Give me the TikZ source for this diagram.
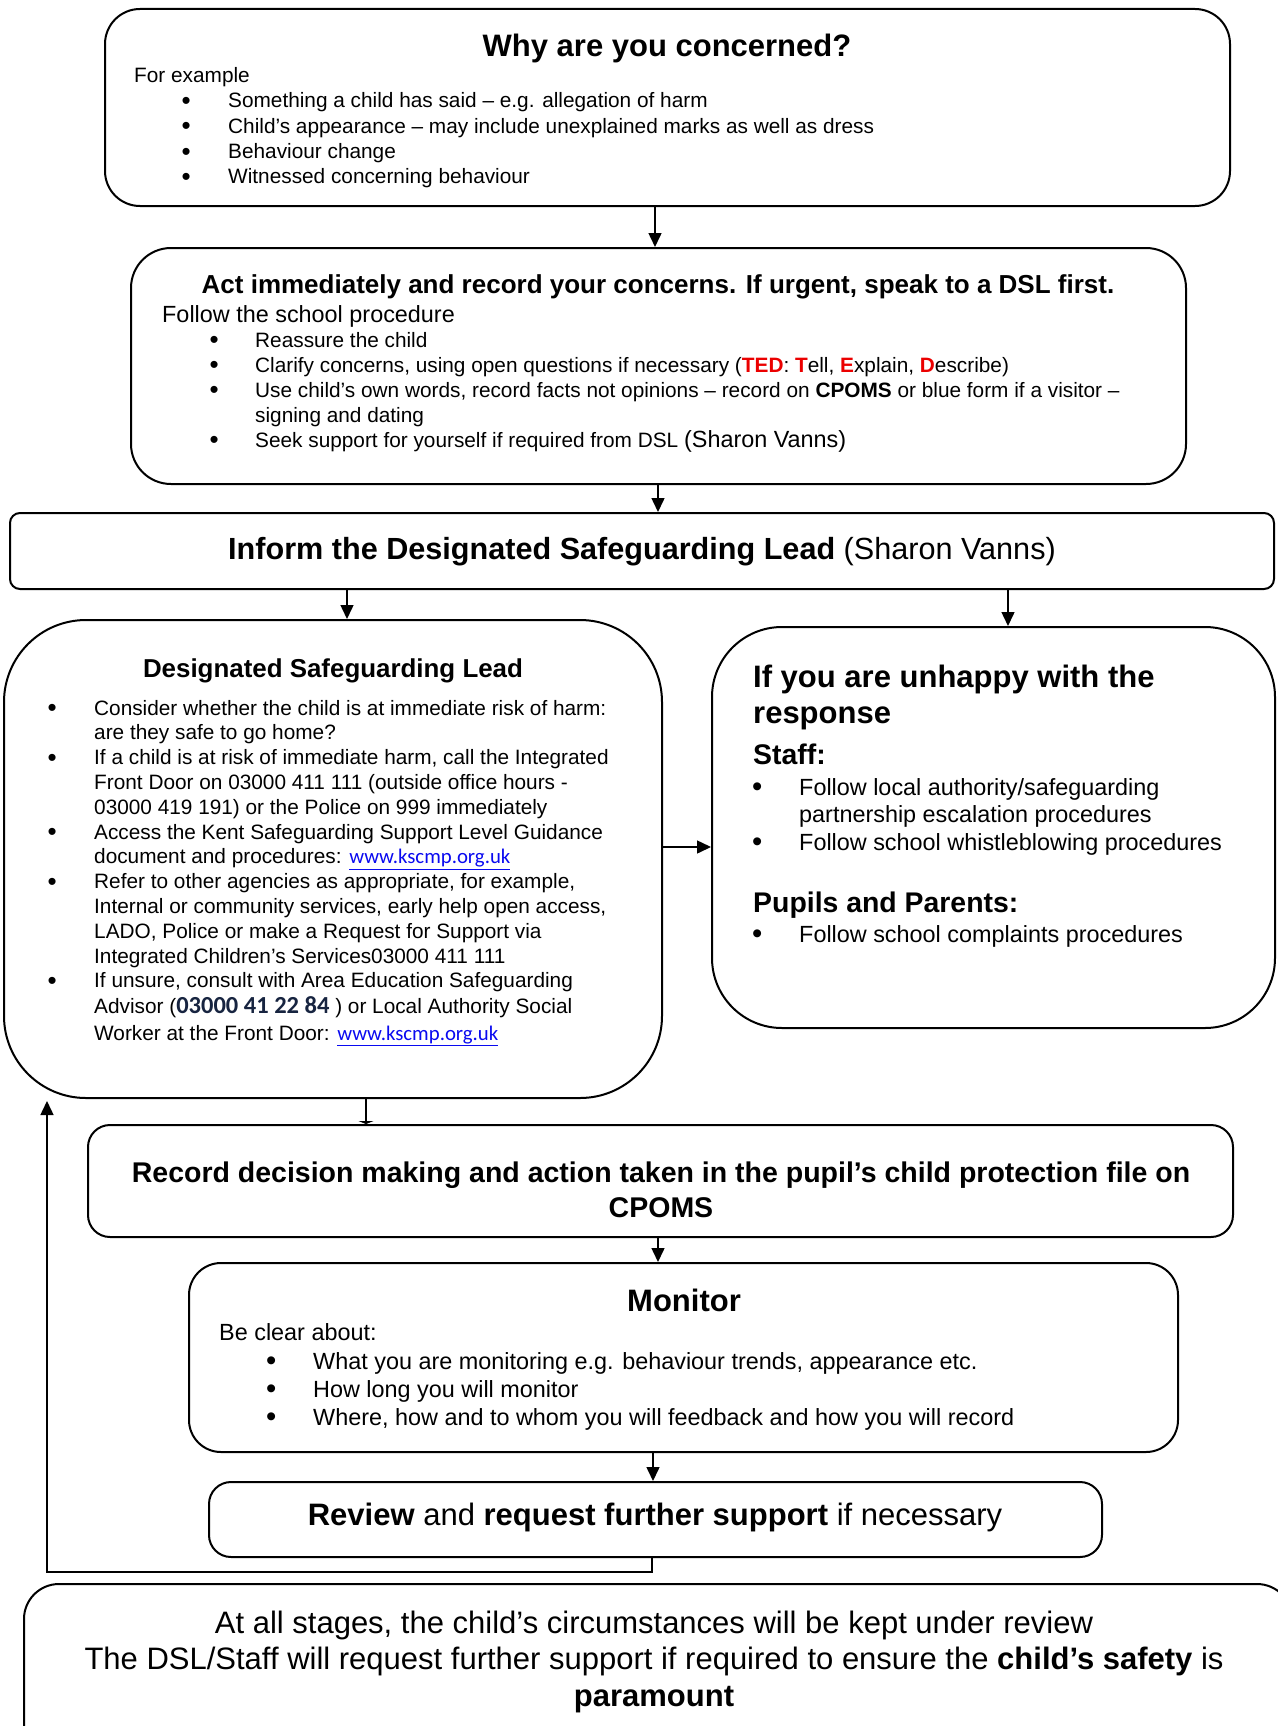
\documentclass[tikz,border=0pt]{standalone}
\usepackage{fontspec}
\usepackage{graphicx}
\setmainfont{Liberation Sans}
\newfontfamily\calfont{Carlito}
\usetikzlibrary{arrows.meta}
\definecolor{linkblue}{RGB}{10,10,240}
\definecolor{navy}{RGB}{23,36,64}
\definecolor{tedred}{RGB}{235,0,0}
\newcommand\fsz[2]{\fontsize{#1}{#2}\selectfont\spaceskip=0pt\xspaceskip=0pt\relax}
\newcommand\bigbul{\raisebox{-0.08em}{\scalebox{1.25}{\textbullet}}}
\newcommand\bitem[2]{\noindent\llap{\makebox[#1][l]{\makebox[0pt]{\bigbul}}}#2\par}
\newcommand\lnk[1]{{\calfont\color{linkblue}\underline{#1}}}
\newcommand\red[1]{{\color{tedred}\bfseries #1}}
\begin{document}
\begin{tikzpicture}[x=1pt,y=-1pt,
  box/.style={draw, line width=2pt, rounded corners=#1, inner sep=0pt},
  arr/.style={-{Triangle[length=14pt,width=13pt]}, line width=1.5pt},
  flatarr/.style={-{Triangle[length=3pt,width=15pt]}, line width=1.5pt},
  txt/.style={inner sep=0pt, anchor=base west}]
\useasboundingbox (0,0) rectangle (1277,1726);
\fill[white] (0,0) rectangle (1277,1726);
% boxes
\node[box=35pt, minimum width=1125pt, minimum height=197pt] (b1) at (667.5,107.5) {};
\node[box=40pt, minimum width=1055pt, minimum height=236pt] (b2) at (658.5,366) {};
\node[box=10pt, minimum width=1264pt, minimum height=76pt] (b3) at (642,551) {};
\node[box=82pt, minimum width=658pt, minimum height=478pt] (b4) at (333,859) {};
\node[box=70pt, minimum width=563pt, minimum height=401pt] (b5) at (993.5,827.5) {};
\node[box=22pt, minimum width=1145pt, minimum height=112pt] (b6) at (660.5,1181) {};
\node[box=32pt, minimum width=989pt, minimum height=189pt] (b7) at (683.5,1357.5) {};
\node[box=22pt, minimum width=893pt, minimum height=75pt] (b8) at (655.5,1519.5) {};
\node[box=35pt, minimum width=1268pt, minimum height=176pt] (b9) at (658,1672) {};
% box 1 text
\node[txt, anchor=base] (t1) at (667,57) {\fsz{31}{36}\bfseries Why are you concerned?};
\node[txt] (t1a) at (134,83) {\fsz{20.8}{25.3}For example};
\node[txt, text width=950pt] (t1b) at (228,108) {\fsz{20.8}{25.3}\raggedright
\bitem{42pt}{Something a child has said – e.g. allegation of harm}%
\bitem{42pt}{Child’s appearance – may include unexplained marks as well as dress}%
\bitem{42pt}{Behaviour change}%
\bitem{42pt}{Witnessed concerning behaviour}};
% box 2 text
\node[txt, anchor=base] (t2) at (658,293) {\fsz{26}{30}\bfseries Act immediately and record your concerns. If urgent, speak to a DSL first.};
\node[txt] (t2a) at (162,322) {\fsz{23.4}{27}Follow the school procedure};
\node[txt, text width=920pt] (t2b) at (255,347) {\fsz{20.8}{25}\raggedright
\bitem{41pt}{Reassure the child}%
\bitem{41pt}{Clarify concerns, using open questions if necessary (\red{TED}: \red{T}ell, \red{E}xplain, \red{D}escribe)}%
\bitem{41pt}{Use child’s own words, record facts not opinions – record on \textbf{CPOMS} or blue form if a visitor –\\ signing and dating}%
\bitem{41pt}{Seek support for yourself if required from DSL {\fsz{23.4}{25}(Sharon Vanns)}}};
% box 3 text
\node[txt, anchor=base] (t3) at (642,559) {\fsz{30.6}{35}\textbf{Inform the Designated Safeguarding Lead} (Sharon Vanns)};
% box 4 text
\node[txt, anchor=base] (t4) at (333,677) {\fsz{25.9}{30}\bfseries Designated Safeguarding Lead};
\node[txt, text width=600pt] (t4b) at (94,715) {\fsz{20.8}{24.8}\raggedright
\bitem{42pt}{Consider whether the child is at immediate risk of harm:\\ are they safe to go home?}%
\bitem{42pt}{If a child is at risk of immediate harm, call the Integrated\\ Front Door on 03000 411 111 (outside office hours -\\ 03000 419 191) or the Police on 999 immediately}%
\bitem{42pt}{Access the Kent Safeguarding Support Level Guidance\\ document and procedures: \lnk{www.kscmp.org.uk}}%
\bitem{42pt}{Refer to other agencies as appropriate, for example,\\ Internal or community services, early help open access,\\ LADO, Police or make a Request for Support via\\ Integrated Children’s Services03000 411 111}%
\bitem{42pt}{If unsure, consult with Area Education Safeguarding\\[1pt] Advisor ({\calfont\bfseries\color{navy}\fsz{24.5}{25}03000 41 22 84} ) or Local Authority Social\\[2pt] Worker at the Front Door: \lnk{www.kscmp.org.uk}}};
% box 5 text
\node[txt, text width=520pt] (t5) at (753,687) {\fsz{31}{36}\bfseries\raggedright If you are unhappy with the\\ response\par};
\node[txt] (t5a) at (753,764) {\fsz{28.4}{32}\bfseries Staff:};
\node[txt, text width=470pt] (t5b) at (799,795) {\fsz{23.4}{27.5}\raggedright
\bitem{42pt}{Follow local authority/safeguarding\\ partnership escalation procedures}%
\bitem{42pt}{Follow school whistleblowing procedures}};
\node[txt] (t5c) at (753,912) {\fsz{28.4}{32}\bfseries Pupils and Parents:};
\node[txt, text width=470pt] (t5d) at (799,942) {\fsz{23.4}{27.5}\raggedright
\bitem{42pt}{Follow school complaints procedures}};
% box 6 text
\node[txt, anchor=base, text width=1140pt] (t6) at (661,1182) {\fsz{28.5}{35}\bfseries\centering Record decision making and action taken in the pupil’s child protection file on\\ CPOMS\par};
% box 7 text
\node[txt, anchor=base] (t7) at (684,1311) {\fsz{31}{36}\bfseries Monitor};
\node[txt] (t7a) at (219,1340) {\fsz{23.4}{28}Be clear about:};
\node[txt, text width=860pt] (t7b) at (313,1369) {\fsz{23.4}{28}\raggedright
\bitem{42pt}{What you are monitoring e.g. behaviour trends, appearance etc.}%
\bitem{42pt}{How long you will monitor}%
\bitem{42pt}{Where, how and to whom you will feedback and how you will record}};
% box 8 text
\node[txt, anchor=base] (t8) at (655,1525) {\fsz{31}{36}\textbf{Review} and \textbf{request further support} if necessary};
% box 9 text
\node[txt, anchor=base, text width=1260pt] (t9) at (654,1633) {\fsz{31}{36.5}\centering At all stages, the child’s circumstances will be kept under review\\ The DSL/Staff will request further support if required to ensure the \textbf{child’s safety} is\\ \textbf{paramount}\par};
% connector x positions
\coordinate (x655) at (655,0);
\coordinate (x658) at (658,0);
\coordinate (x347) at (347,0);
\coordinate (x1008) at (1008,0);
\coordinate (y847) at (0,847);
\coordinate (x366) at (366,0);
\coordinate (x653) at (653,0);
\coordinate (fb1) at (652,1572);
\coordinate (fb2) at (47,1572);
\coordinate (fbend) at (47,1101);
% connectors
\draw[arr] (b1.south -| x655) -- (b2.north -| x655);
\draw[arr] (b2.south -| x658) -- (b3.north -| x658);
\draw[arr] (b3.south -| x347) -- (b4.north -| x347);
\draw[arr] (b3.south -| x1008) -- (b5.north -| x1008);
\draw[arr] (b4.east |- y847) -- (b5.west |- y847);
\draw[flatarr] (b4.south -| x366) -- (b6.north -| x366);
\draw[arr] (b6.south -| x658) -- (b7.north -| x658);
\draw[arr] (b7.south -| x653) -- (b8.north -| x653);
\draw[arr] (b8.south -| fb1) -- (fb1) -- (fb2) -- (fbend);
\end{tikzpicture}
\end{document}
